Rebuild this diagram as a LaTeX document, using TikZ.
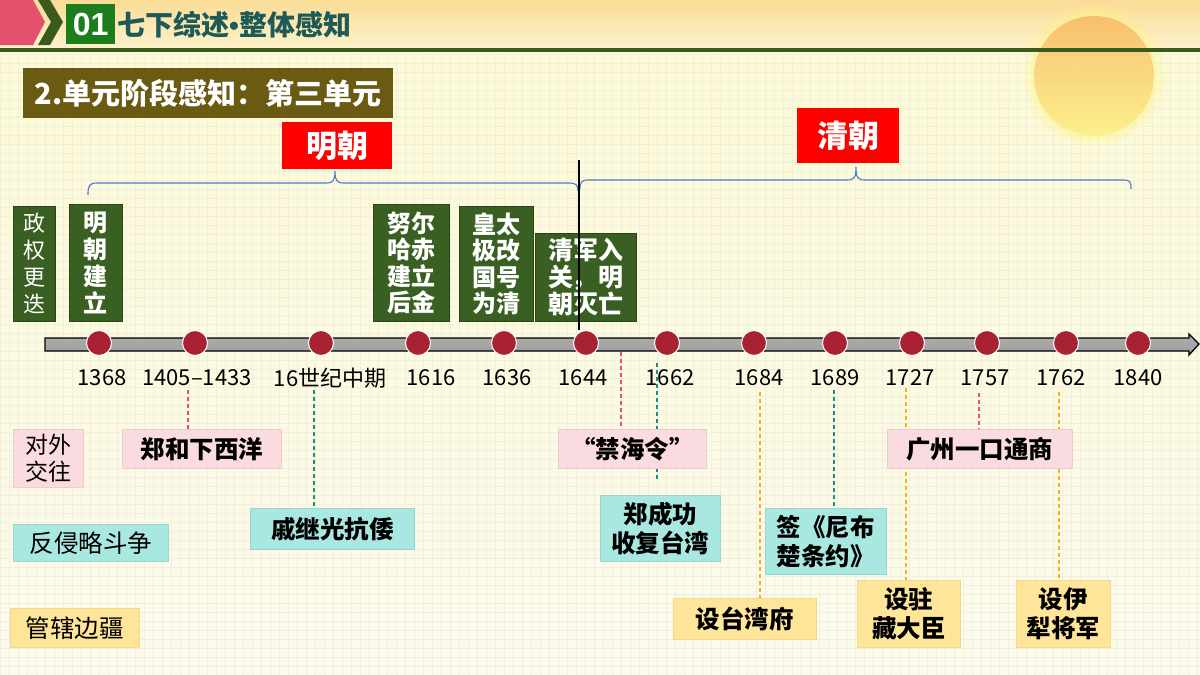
\documentclass[tikz,border=0pt]{standalone}
\usepackage{fontspec}
\setmainfont{Noto Sans CJK SC}
\newfontfamily\latf{Liberation Sans}
\definecolor{pinkhead}{HTML}{E2506B}
\definecolor{hdrgreen}{HTML}{3B5B1C}
\definecolor{boxgreen}{HTML}{1C7D1C}
\definecolor{titlec}{HTML}{1E5A57}
\definecolor{subbox}{HTML}{6A5A12}
\definecolor{redlab}{HTML}{FE0000}
\definecolor{gfill}{HTML}{3A5F22}
\definecolor{gdark}{HTML}{2A4515}
\definecolor{dotred}{HTML}{A82232}
\definecolor{pinkbox}{HTML}{FADBDF}
\definecolor{pinkedge}{HTML}{F3C9CF}
\definecolor{tealbox}{HTML}{A9E7E1}
\definecolor{tealedge}{HTML}{93D8D0}
\definecolor{yelbox}{HTML}{FEE59A}
\definecolor{yeledge}{HTML}{F6D889}
\definecolor{dpink}{HTML}{E2506A}
\definecolor{dteal}{HTML}{1D8C84}
\definecolor{dgold}{HTML}{F2B21A}
\definecolor{bracec}{HTML}{4B79C9}
\definecolor{bgc}{HTML}{FCFAEC}
\definecolor{gridc}{HTML}{EFEEDF}
\tikzset{
  gbox/.style={draw=gdark, fill=gfill, line width=0.6pt, text=white, align=center,
    inner sep=0pt, anchor=north west, font=\bfseries\fontsize{24}{26.5}\selectfont},
  lbox/.style={align=center, inner sep=0pt, anchor=north west, line width=0.6pt,
    font=\bfseries\fontsize{24.5}{29}\selectfont},
  pbox/.style={lbox, fill=pinkbox, draw=pinkedge},
  tbox/.style={lbox, fill=tealbox, draw=tealedge},
  ybox/.style={lbox, fill=yelbox, draw=yeledge},
  regw/.style={font=\fontsize{24.5}{29}\selectfont},
  redbox/.style={fill=redlab, text=white, inner sep=0pt, anchor=north west,
    font=\bfseries\fontsize{31}{32}\selectfont},
  dotn/.style={circle, fill=dotred, draw=white, line width=1pt, minimum size=25pt, inner sep=0pt},
  year/.style={font=\fontsize{22}{22}\selectfont, inner sep=0pt},
  dashc/.style={dashed, dash pattern=on 4pt off 3pt, line width=1.1pt},
  brace/.style={draw=bracec, line width=1.1pt},
}
\begin{document}
\begin{tikzpicture}[x=1pt,y=-1pt]
\useasboundingbox (0,0) rectangle (1200,675);
% background
\shade[top color=yellow!10!bgc, bottom color=bgc] (0,50) rectangle (1200,675);
\foreach \i in {0,9,...,1200} \draw[gridc, line width=0.5pt] (\i,50) -- (\i,675);
\foreach \j in {54,63,...,675} \draw[gridc, line width=0.5pt] (0,\j) -- (1200,\j);
\shade[top color={rgb,255:red,249;green,220;blue,150}, bottom color={rgb,255:red,253;green,243;blue,205}] (0,0) rectangle (1200,50);
% sun
\fill[yellow!50, opacity=0.2] (1094,76) circle[radius=70pt];
\fill[yellow!50, opacity=0.25] (1094,76) circle[radius=64pt];
\shade[top color={rgb,255:red,247;green,172;blue,90}, bottom color={rgb,255:red,253;green,238;blue,125}, opacity=0.7] (1094,76) circle[radius=60pt];
% header
\fill[hdrgreen] (0,48) rectangle (1200,52);
\fill[pinkhead] (0,0) -- (33,0) -- (45,22) -- (33,45) -- (0,45) -- cycle;
\fill[hdrgreen] (38,0) -- (50,0) -- (63,22) -- (50,45) -- (38,45) -- (51,22) -- cycle;
\node[fill=boxgreen, text=white, inner sep=0pt, minimum width=49pt, minimum height=40pt, anchor=north west,
  font=\latf\bfseries\fontsize{32}{32}\selectfont] (n01) at (66,4) {01};
\node[anchor=west, inner sep=0pt, text=titlec, font=\bfseries\fontsize{28}{29}\selectfont] (title) at (117,25) {七下综述{\latf•}整体感知};
\node[fill=subbox, text=white, inner sep=0pt, minimum width=370pt, minimum height=50pt, anchor=north west,
  font=\bfseries\fontsize{29}{30}\selectfont] (sub) at (23,68) {2.单元阶段感知：第三单元};
% dynasty labels
\node[redbox, minimum width=110pt, minimum height=47pt] (ming) at (282,122) {明朝};
\node[redbox, minimum width=102pt, minimum height=55pt] (qing) at (797,108) {清朝};
% braces
\draw[brace] (88,195) .. controls (88,186) and (89,183) .. (97,183) -- (326,183)
  .. controls (333,183) and (335,181) .. (335,171) .. controls (335,181) and (337,183) .. (344,183)
  -- (569,183) .. controls (576,183) and (578,185) .. (578,191);
\draw[brace] (580,189) .. controls (580,183) and (581,180) .. (588,180) -- (847,180)
  .. controls (854,180) and (856,178) .. (856,167) .. controls (856,178) and (858,180) .. (865,180)
  -- (1124,180) .. controls (1130,180) and (1131,182) .. (1131,189);
% green event boxes
\node[gbox, minimum width=42pt, minimum height=115pt, font=\fontsize{22}{27}\selectfont] (zq) at (13,206) {政\\权\\更\\迭};
\node[gbox, minimum width=53pt, minimum height=117pt, font=\bfseries\fontsize{24}{27}\selectfont] (mjl) at (69,204) {明\\朝\\建\\立};
\node[gbox, minimum width=76pt, minimum height=117pt] (nrh) at (373,204) {努尔\\哈赤\\建立\\后金};
\node[gbox, minimum width=74pt, minimum height=115pt] (htj) at (459,206) {皇太\\极改\\国号\\为清};
\node[gbox, minimum width=101pt, minimum height=88pt, font=\bfseries\fontsize{25}{27}\selectfont] (qjr) at (535,233) {清军入\\关\kern-1.5pt，\kern1.5pt明\\朝灭亡};
% divider
\draw[black, line width=2.8pt] (579,160) -- (579,330);
% timeline bar
\shade[top color=gray!65, middle color=gray!30, bottom color=gray!75, draw=black, line width=1.3pt]
  (45,338) -- (1189,338) -- (1189,334) -- (1199,344) -- (1189,355) -- (1189,351) -- (45,351) -- cycle;
% dots and years
\foreach \nm/\x/\lx/\lab in {a/99/102/1368, b/195/197/1405{–}1433, c/321/330/16世纪中期, d/418/431/1616,
  e/504/507/1636, f/586/583/1644, g/667/670/1662, h/754/759/1684, i/835/835/1689, j/912/910/1727,
  k/987/985/1757, l/1066/1061/1762, m/1138/1138/1840}{
  \node[dotn] (dot\nm) at (\x,343) {};
  \node[year] (yr\nm) at (\lx,378) {\lab};
}
% connectors start points
\coordinate (c1) at (188,390);
\coordinate (c2) at (314,390);
\coordinate (c3) at (621,352);
\coordinate (c4) at (657,363);
\coordinate (c5) at (760,392);
\coordinate (c6) at (834,390);
\coordinate (c7) at (906,388);
\coordinate (c8) at (979,393);
\coordinate (c9) at (1059,392);
\path (122,429) coordinate (pzh) (250,508) coordinate (pqj) (558,429) coordinate (pjh)
  (600,495) coordinate (pzc) (673,598) coordinate (ptw) (765,508) coordinate (pnb)
  (887,429) coordinate (pgz) (857,580) coordinate (pzz) (1016,580) coordinate (pyl);
\draw[dashc, dpink] (c1) -- (c1 |- pzh);
\draw[dashc, dteal] (c2) -- (c2 |- pqj);
\draw[dashc, dpink] (c3) -- (c3 |- pjh);
\draw[dashc, dteal] (c4) -- ([yshift=14pt]c4 |- pzc);
\draw[dashc, dgold] (c5) -- (c5 |- ptw);
\draw[dashc, dteal] (c6) -- (c6 |- pnb);
\draw[dashc, dgold] (c7) -- ([yshift=-10pt]c7 |- pzz);
\draw[dashc, dpink] (c8) -- (c8 |- pgz);
\draw[dashc, dgold] (c9) -- ([yshift=-5pt]c9 |- pyl);
% category boxes
\node[pbox, minimum width=70pt, minimum height=58pt, font=\fontsize{23}{27}\selectfont] (dw) at (13,429) {对外\\交往};
\node[tbox, regw, minimum width=155pt, minimum height=37pt] (fq) at (13,524) {反侵略斗争};
\node[ybox, regw, minimum width=129pt, minimum height=39pt] (gx) at (10,608) {管辖边疆};
% event boxes
\node[pbox, minimum width=159pt, minimum height=39pt] (zh) at (pzh) {郑和下西洋};
\node[tbox, minimum width=164pt, minimum height=41pt] (qj) at (pqj) {戚继光抗倭};
\node[pbox, minimum width=148pt, minimum height=39pt] (jh) at (pjh) {“禁海令”};
\node[tbox, minimum width=120pt, minimum height=66pt] (zc) at (pzc) {郑成功\\收复台湾};
\node[ybox, minimum width=143pt, minimum height=41pt] (tw) at (ptw) {设台湾府};
\node[tbox, minimum width=121pt, minimum height=66pt] (nb) at (pnb) {签《尼布\\楚条约》};
\node[pbox, minimum width=185pt, minimum height=39pt] (gz) at (pgz) {广州一口通商};
\node[ybox, minimum width=103pt, minimum height=67pt] (zz) at (pzz) {设驻\\藏大臣};
\node[ybox, minimum width=94pt, minimum height=67pt] (yl) at (pyl) {设伊\\犁将军};
\end{tikzpicture}
\end{document}
